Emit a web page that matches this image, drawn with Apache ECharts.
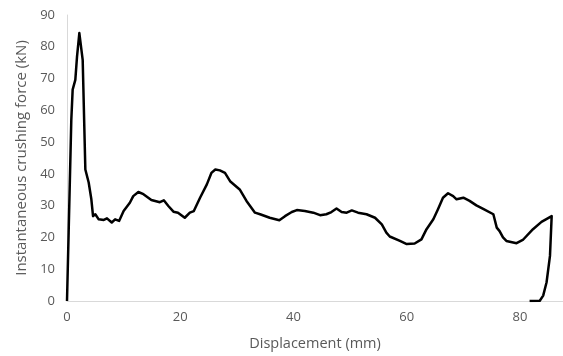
<!DOCTYPE html>
<html>
<head>
<meta charset="utf-8">
<script src="https://cdn.jsdelivr.net/npm/echarts@6/dist/echarts.min.js"></script>
<style>
  html, body { margin: 0; padding: 0; background: #fff; }
  #chart { width: 563px; height: 356px; }
</style>
</head>
<body>
<div id="chart"></div>
<script>
// Crushing test record: displacement (mm) against instantaneous force (kN)
const dispMm = [
  0, 0.29, 0.76, 1.0, 1.47, 1.77, 2.18, 2.53, 2.77, 3.24, 3.83, 4.3, 4.6,
  5.0, 5.6, 6.5, 7.06, 7.9, 8.5, 9.2, 10.0, 11.1, 11.7, 12.6, 13.5, 14.9, 16.4,
  17.1, 17.9, 18.8, 19.6, 20.8, 21.7, 22.4, 23.5, 24.7, 25.5, 26.2, 27.0, 27.3,
  27.9, 28.8, 30.5, 31.7, 33.2, 34.1, 35.8, 37.5, 38.5, 39.7, 40.6, 42.0, 43.5,
  44.7, 45.8, 46.7, 47.6, 48.5, 49.4, 50.3, 51.4, 52.9, 54.4, 55.6, 56.4, 57.0,
  58.8, 60.0, 61.4, 62.6, 63.5, 64.7, 65.5, 66.4, 67.3, 68.2, 68.8, 70.0, 71.1,
  72.3, 73.5, 75.3, 75.9, 76.4, 77.0, 77.6, 79.4, 80.5, 82.3, 83.8, 85.6,
  85.9, 85.3, 84.7, 84.1, 83.5, 81.7
];
const forceKN = [
  0, 21.6, 57.0, 66.5, 69.6, 76.9, 84.3, 83.7, 75.9, 41.4, 37.3, 32.0, 26.7,
  27.3, 25.7, 25.5, 26.0, 24.7, 25.7, 25.2, 28.3, 30.9, 33.0, 34.3, 33.6, 31.8, 31.1,
  31.7, 29.9, 28.1, 27.8, 26.2, 27.8, 28.3, 32.5, 36.7, 40.3, 41.4, 41.1, 41.6,
  40.3, 37.7, 35.1, 31.5, 27.8, 27.3, 26.2, 25.4, 26.7, 28.0, 28.6, 28.3, 27.8,
  27.0, 27.3, 28.0, 29.1, 28.0, 27.8, 28.5, 27.8, 27.3, 26.2, 24.1, 21.5, 20.3,
  18.9, 17.9, 18.1, 19.4, 22.6, 25.7, 28.8, 32.5, 33.9, 33.0, 32.0, 32.5, 31.5,
  30.1, 29.0, 27.3, 23.1, 22.0, 20.0, 18.9, 18.2, 19.2, 22.6, 24.9, 26.7,
  27.2, 14.2, 5.9, 1.7, 0.1, 0
];
const xTicks = [0, 20, 40, 60, 80];
const xMax = 87.6;

const points = dispMm.map((d, i) => [d, forceKN[i]]);
const chart = echarts.init(document.getElementById('chart'));
const labelFont = "'Open Sans', 'Liberation Sans', sans-serif";

chart.setOption({
  animation: false,
  grid: { left: 67, right: 0, top: 15, bottom: 54 },
  xAxis: {
    type: 'value',
    min: 0,
    max: xMax,
    interval: 20,
    name: 'Displacement (mm)',
    nameLocation: 'middle',
    nameGap: 35,
    nameTextStyle: { color: '#595959', fontSize: 14.5, fontFamily: labelFont },
    axisLine: { show: true, lineStyle: { color: '#d9d9d9', width: 1 } },
    axisTick: { show: false },
    splitLine: { show: false },
    axisLabel: {
      color: '#595959', fontSize: 13, fontFamily: labelFont, margin: 10,
      showMaxLabel: false,
      formatter: v => (xTicks.includes(v) ? String(v) : '')
    }
  },
  yAxis: {
    type: 'value',
    min: 0,
    max: 90,
    interval: 10,
    name: 'Instantaneous crushing force (kN)',
    nameLocation: 'middle',
    nameGap: 37,
    nameTextStyle: { color: '#595959', fontSize: 15, fontFamily: labelFont },
    axisLine: { show: true, lineStyle: { color: '#d9d9d9', width: 1 } },
    axisTick: { show: false },
    splitLine: { show: false },
    axisLabel: { color: '#595959', fontSize: 13, fontFamily: labelFont, margin: 12 }
  },
  series: [{
    type: 'line',
    data: points,
    showSymbol: false,
    smooth: false,
    lineStyle: { color: '#000', width: 2.5, join: 'round' }
  }]
});
</script>
</body>
</html>
